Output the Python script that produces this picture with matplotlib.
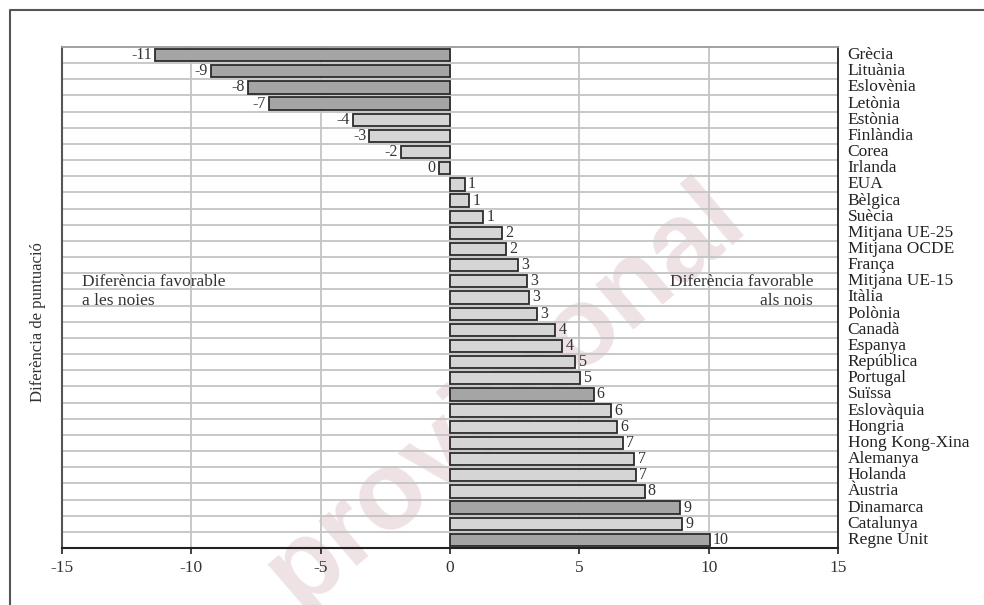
import matplotlib
matplotlib.use("Agg")
import matplotlib.pyplot as plt
from matplotlib.lines import Line2D

# data
countries = ["Grècia", "Lituània", "Eslovènia", "Letònia", "Estònia", "Finlàndia",
             "Corea", "Irlanda", "EUA", "Bèlgica", "Suècia", "Mitjana UE-25",
             "Mitjana OCDE", "França", "Mitjana UE-15", "Itàlia", "Polònia", "Canadà",
             "Espanya", "República", "Portugal", "Suïssa", "Eslovàquia", "Hongria",
             "Hong Kong-Xina", "Alemanya", "Holanda", "Àustria", "Dinamarca",
             "Catalunya", "Regne Unit"]
diffs = [-11.4, -9.25, -7.82, -7.01, -3.74, -3.12, -1.89, -0.43, 0.58, 0.75, 1.28,
         2.0, 2.18, 2.63, 2.98, 3.05, 3.36, 4.07, 4.34, 4.83, 5.04, 5.55, 6.22,
         6.47, 6.68, 7.13, 7.19, 7.52, 8.91, 8.98, 10.05]
labels = [-11, -9, -8, -7, -4, -3, -2, 0, 1, 1, 1, 2, 2, 3, 3, 3, 3, 4, 4, 5, 5,
          6, 6, 6, 7, 7, 7, 8, 9, 9, 10]
significant = ["Grècia", "Lituània", "Eslovènia", "Letònia", "Suïssa", "Dinamarca",
               "Regne Unit"]

DARK = "#a5a5a5"
LIGHT = "#d5d5d5"
GRID = "#c4c4c4"
FONT = "Liberation Serif"

plt.rcParams["font.family"] = FONT

fig = plt.figure(figsize=(9.84, 6.05), dpi=100)
ax = fig.add_axes([62 / 984, 1 - 548 / 605, 776 / 984, 501 / 605])
ax.patch.set_alpha(0)

ypos = list(range(len(countries)))
colors = [DARK if c in significant else LIGHT for c in countries]
ax.barh(ypos, diffs, height=0.76, color=colors, edgecolor="#2b2b2b",
        linewidth=1.3, zorder=3)

for y, v, lab in zip(ypos, diffs, labels):
    if v < 0:
        ax.text(v - 0.12, y, str(lab), ha="right", va="center", fontsize=11.5,
                color="#333333", zorder=4)
    else:
        ax.text(v + 0.12, y, str(lab), ha="left", va="center", fontsize=11.5,
                color="#333333", zorder=4)

ax.set_xlim(-15, 15)
ax.set_ylim(len(countries) - 0.5, -0.5)

# grid lines between categories and every 5 units
for k in range(len(countries) - 1):
    ax.axhline(k + 0.5, color=GRID, lw=1.3, zorder=1)
for xv in [-10, -5, 0, 5, 10]:
    ax.axvline(xv, color=GRID, lw=1.3, zorder=1)

ax.set_xticks([-15, -10, -5, 0, 5, 10, 15])
ax.set_xticklabels(["-15", "-10", "-5", "0", "5", "10", "15"])
ax.tick_params(axis="x", direction="out", length=4, width=1.2, colors="#222222",
               labelsize=12.5, pad=5, labelcolor="#333333")

ax.yaxis.tick_right()
ax.set_yticks(ypos)
ax.set_yticklabels(countries)
ax.tick_params(axis="y", length=0, labelsize=12.5, pad=7, labelcolor="#222222")
for t in ax.get_yticklabels():
    t.set_verticalalignment("center")

ax.spines["top"].set_color("#9a9a9a")
ax.spines["top"].set_linewidth(1.3)
ax.spines["left"].set_color("#555555")
ax.spines["left"].set_linewidth(1.5)
ax.spines["right"].set_color("#222222")
ax.spines["right"].set_linewidth(1.3)
ax.spines["bottom"].set_color("#222222")
ax.spines["bottom"].set_linewidth(1.5)

ax.text(0.026, 0.512, "Diferència favorable\na les noies", transform=ax.transAxes,
        ha="left", va="center", fontsize=12.5, linespacing=1.25, color="#333333",
        zorder=5)
ax.text(0.968, 0.512, "Diferència favorable\nals nois", transform=ax.transAxes,
        ha="right", va="center", fontsize=12.5, linespacing=1.25, color="#333333",
        multialignment="right", zorder=5)

fig.text(38 / 984, 1 - 322 / 605, "Diferència de puntuació", rotation=90,
         ha="center", va="center", fontsize=12, color="#333333")

# watermark, behind the chart
fig.text(505 / 984, 1 - 395 / 605, "provisional", rotation=40.5, ha="center",
         va="center", fontsize=80, fontweight="bold", family="Liberation Sans",
         color="#eee2e4", zorder=-1)

# outer frame (left and top edges)
fig.add_artist(Line2D([10 / 984, 10 / 984, 1.0], [0.0, 1 - 10 / 605, 1 - 10 / 605],
                      transform=fig.transFigure, color="#555555", lw=1.5))

fig.savefig("out.png", dpi=100)
